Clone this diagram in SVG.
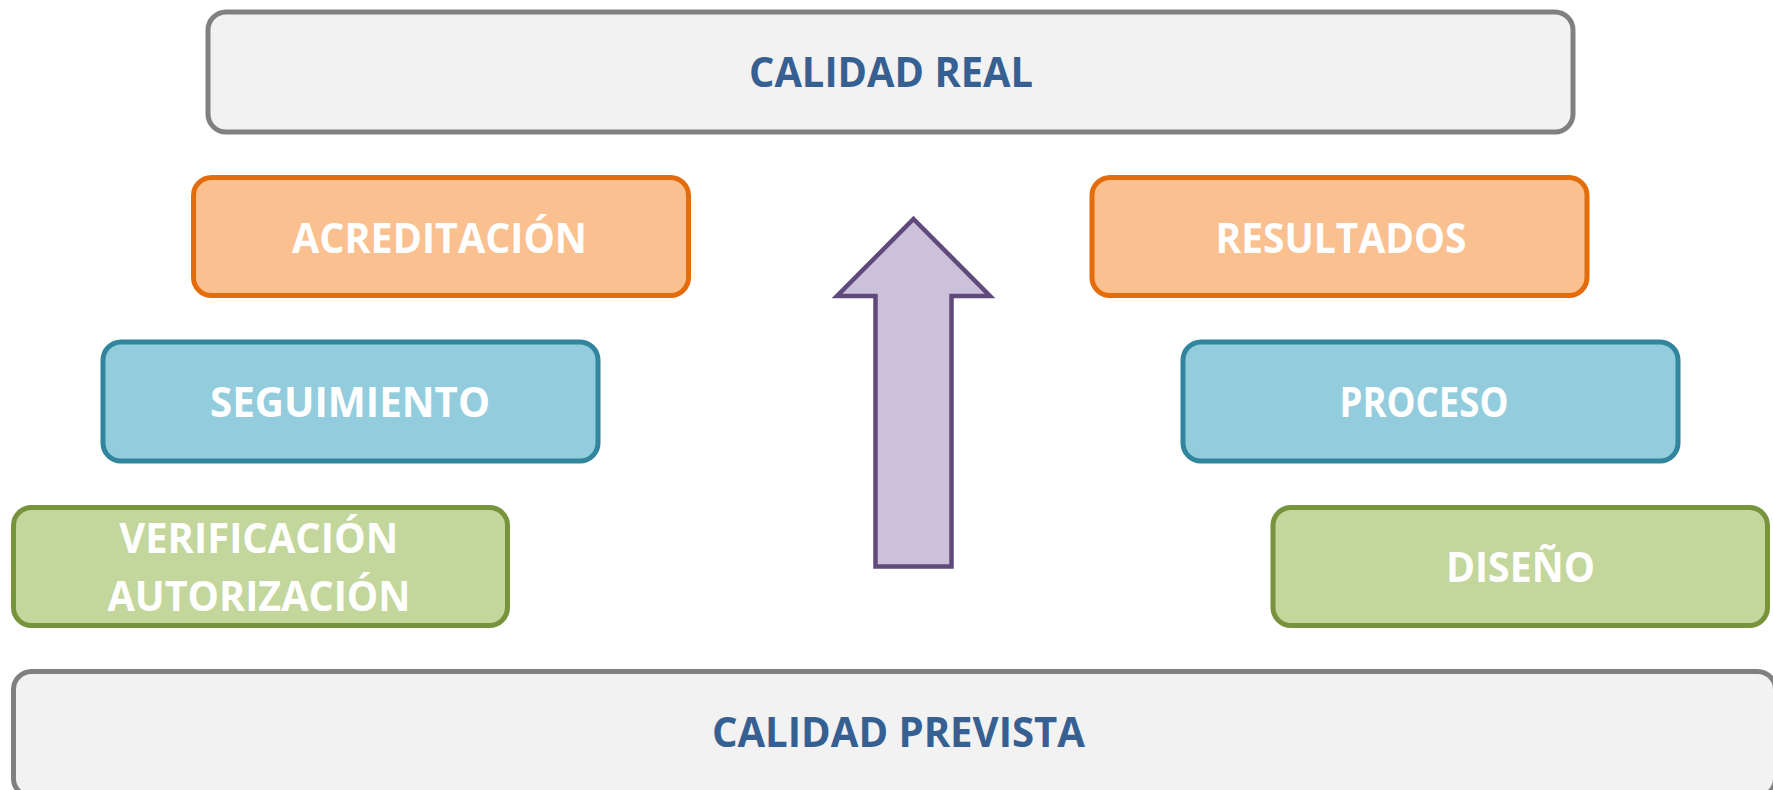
<svg xmlns="http://www.w3.org/2000/svg" width="1773" height="790" viewBox="0 0 1773 790">
<style>
.t{font-family:"Open Sans","Liberation Sans",sans-serif;font-weight:bold;font-size:42px;text-anchor:middle}
.gray{fill:#f2f2f2;stroke:#808080;stroke-width:5}
.orange{fill:#fac090;stroke:#e46c0a;stroke-width:5}
.blue{fill:#93cddd;stroke:#31859c;stroke-width:5}
.green{fill:#c3d69b;stroke:#77933c;stroke-width:5}
.dark{fill:#376092}
.white{fill:#ffffff}
</style>
<rect width="1773" height="790" fill="#ffffff"/>
<g id="calidad-real">
<rect class="gray" x="208" y="12" width="1365" height="120" rx="18"/>
<text class="t dark" x="891" y="87.3" textLength="284" lengthAdjust="spacingAndGlyphs">CALIDAD REAL</text>
</g>
<g id="acreditacion">
<rect class="orange" x="193.5" y="177.5" width="495" height="118" rx="18"/>
<text class="t white" x="439.5" y="252.7" textLength="295" lengthAdjust="spacingAndGlyphs">ACREDITACIÓN</text>
</g>
<g id="resultados">
<rect class="orange" x="1092" y="177.5" width="495" height="118" rx="18"/>
<text class="t white" x="1341" y="252.7" textLength="251" lengthAdjust="spacingAndGlyphs">RESULTADOS</text>
</g>
<g id="seguimiento">
<rect class="blue" x="103" y="342" width="495" height="119" rx="18"/>
<text class="t white" x="350" y="417.3" textLength="280" lengthAdjust="spacingAndGlyphs">SEGUIMIENTO</text>
</g>
<g id="proceso">
<rect class="blue" x="1183" y="342" width="495" height="119" rx="18"/>
<text class="t white" x="1424" y="417.3" textLength="169" lengthAdjust="spacingAndGlyphs">PROCESO</text>
</g>
<g id="verificacion">
<rect class="green" x="13.5" y="507.5" width="494" height="118" rx="18"/>
<text class="t white" x="258.8" y="552.7" textLength="279" lengthAdjust="spacingAndGlyphs">VERIFICACIÓN</text>
<text class="t white" x="259" y="610.7" textLength="303" lengthAdjust="spacingAndGlyphs">AUTORIZACIÓN</text>
</g>
<g id="diseno">
<rect class="green" x="1273" y="507.5" width="494.5" height="118" rx="18"/>
<text class="t white" x="1520.5" y="582.3" textLength="149" lengthAdjust="spacingAndGlyphs">DISEÑO</text>
</g>
<g id="calidad-prevista">
<rect class="gray" x="13.5" y="671.5" width="1762" height="125" rx="18"/>
<text class="t dark" x="898.4" y="747.3" textLength="373" lengthAdjust="spacingAndGlyphs">CALIDAD PREVISTA</text>
</g>
<g id="connectors">
<polygon points="913.5,219 990,296 951.5,296 951.5,566.5 875.5,566.5 875.5,296 837,296" fill="#ccc1da" stroke="#604a7b" stroke-width="4.5"/>
</g>
</svg>
